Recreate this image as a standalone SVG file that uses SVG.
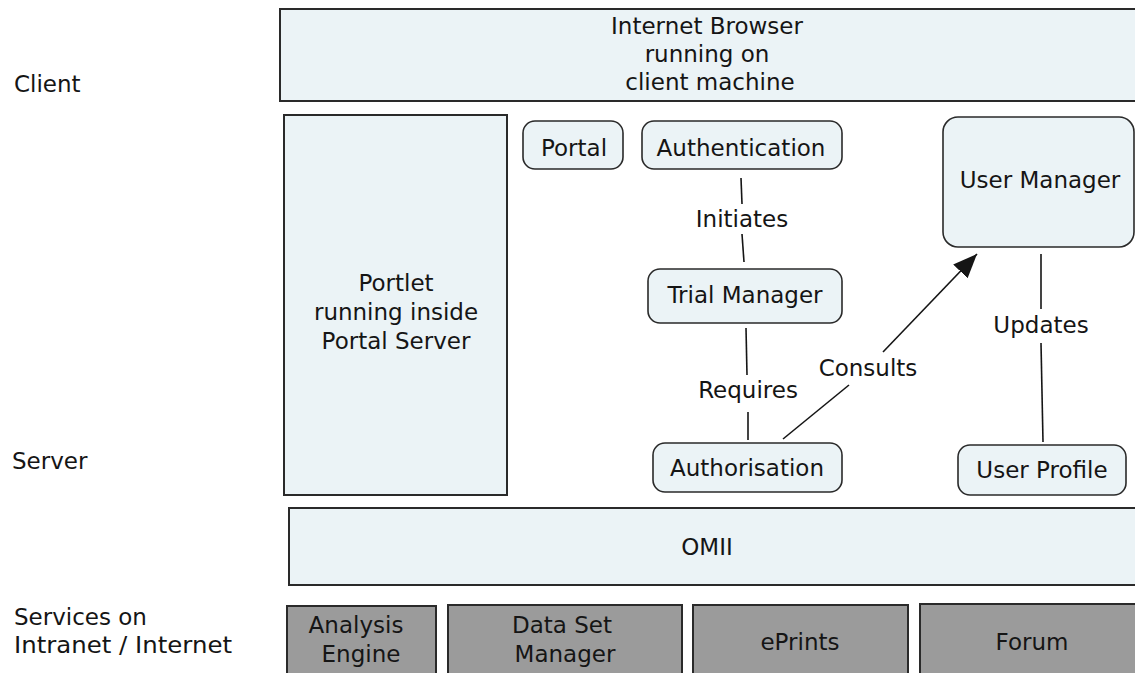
<svg xmlns="http://www.w3.org/2000/svg" width="1135" height="673" viewBox="0 0 1135 673">
  <defs>
    <style>
      text { font-family: "DejaVu Sans", Verdana, sans-serif; font-size: 23px; fill: #151515; }
      .c { text-anchor: middle; }
      .band { fill: #ebf3f6; stroke: #2a2a2a; stroke-width: 2; }
      .node { fill: #ebf3f6; stroke: #2a2a2a; stroke-width: 1.6; }
      .svc { fill: #9b9b9b; stroke: #2a2a2a; stroke-width: 2; }
      .link { stroke: #151515; stroke-width: 1.6; fill: none; }
    </style>
    <marker id="arrowBig" viewBox="0 0 24 20" refX="24" refY="10" markerWidth="24" markerHeight="20" markerUnits="userSpaceOnUse" orient="auto">
      <path d="M0,0 L24,10 L0,20 z" fill="#151515"/>
    </marker>
  </defs>

  <!-- tier labels -->
  <g id="tier-labels">
    <text x="14" y="92">Client</text>
    <text x="12" y="469">Server</text>
    <text x="14" y="625">Services on</text>
    <text x="14" y="653" textLength="218" lengthAdjust="spacingAndGlyphs">Intranet / Internet</text>
  </g>

  <g id="browser">
    <rect class="band" x="280" y="9" width="870" height="92"/>
    <text class="c" x="707" y="34">Internet Browser</text>
    <text class="c" x="707" y="62">running on</text>
    <text class="c" x="710" y="90">client machine</text>
  </g>

  <g id="portlet">
    <rect class="band" x="284" y="115" width="223" height="380"/>
    <text class="c" x="396" y="291">Portlet</text>
    <text class="c" x="396" y="320">running inside</text>
    <text class="c" x="396" y="349">Portal Server</text>
  </g>

  <!-- connectors -->
  <g id="connectors">
    <path class="link" d="M741,178 L742,204"/>
    <path class="link" d="M742,234 L744,262"/>
    <text class="c" x="742" y="227">Initiates</text>

    <path class="link" d="M746,328 L747,375"/>
    <path class="link" d="M748,412 L748,440"/>
    <text class="c" x="748" y="398">Requires</text>

    <path class="link" d="M783,439 L849,385"/>
    <path class="link" d="M883,352 L977,254" marker-end="url(#arrowBig)"/>
    <text class="c" x="868" y="376">Consults</text>

    <path class="link" d="M1041,254 L1041,309"/>
    <path class="link" d="M1041,343 L1043,442"/>
    <text class="c" x="1041" y="333">Updates</text>
  </g>

  <g id="portal">
    <rect class="node" x="523" y="121" width="100" height="48" rx="12"/>
    <text class="c" x="574" y="156">Portal</text>
  </g>
  <g id="authentication">
    <rect class="node" x="642" y="121" width="200" height="48" rx="12"/>
    <text class="c" x="741" y="156">Authentication</text>
  </g>
  <g id="trial-manager">
    <rect class="node" x="648" y="269" width="194" height="54" rx="12"/>
    <text class="c" x="745" y="303">Trial Manager</text>
  </g>
  <g id="authorisation">
    <rect class="node" x="653" y="443" width="189" height="49" rx="12"/>
    <text class="c" x="747" y="476">Authorisation</text>
  </g>
  <g id="user-manager">
    <rect class="node" x="943" y="117" width="191" height="130" rx="15"/>
    <text class="c" x="1040" y="188">User Manager</text>
  </g>
  <g id="user-profile">
    <rect class="node" x="958" y="445" width="168" height="50" rx="12"/>
    <text class="c" x="1042" y="478">User Profile</text>
  </g>

  <g id="omii">
    <rect class="band" x="289" y="508" width="860" height="77"/>
    <text class="c" x="707" y="555">OMII</text>
  </g>

  <g id="analysis-engine">
    <rect class="svc" x="287" y="606" width="149" height="80"/>
    <text class="c" x="356" y="633">Analysis</text>
    <text class="c" x="361" y="662">Engine</text>
  </g>
  <g id="data-set-manager">
    <rect class="svc" x="448" y="605" width="234" height="80"/>
    <text class="c" x="562" y="633">Data Set</text>
    <text class="c" x="565" y="662">Manager</text>
  </g>
  <g id="eprints">
    <rect class="svc" x="693" y="605" width="215" height="80"/>
    <text class="c" x="800" y="650">ePrints</text>
  </g>
  <g id="forum">
    <rect class="svc" x="920" y="604" width="230" height="80"/>
    <text class="c" x="1032" y="650">Forum</text>
  </g>
</svg>
